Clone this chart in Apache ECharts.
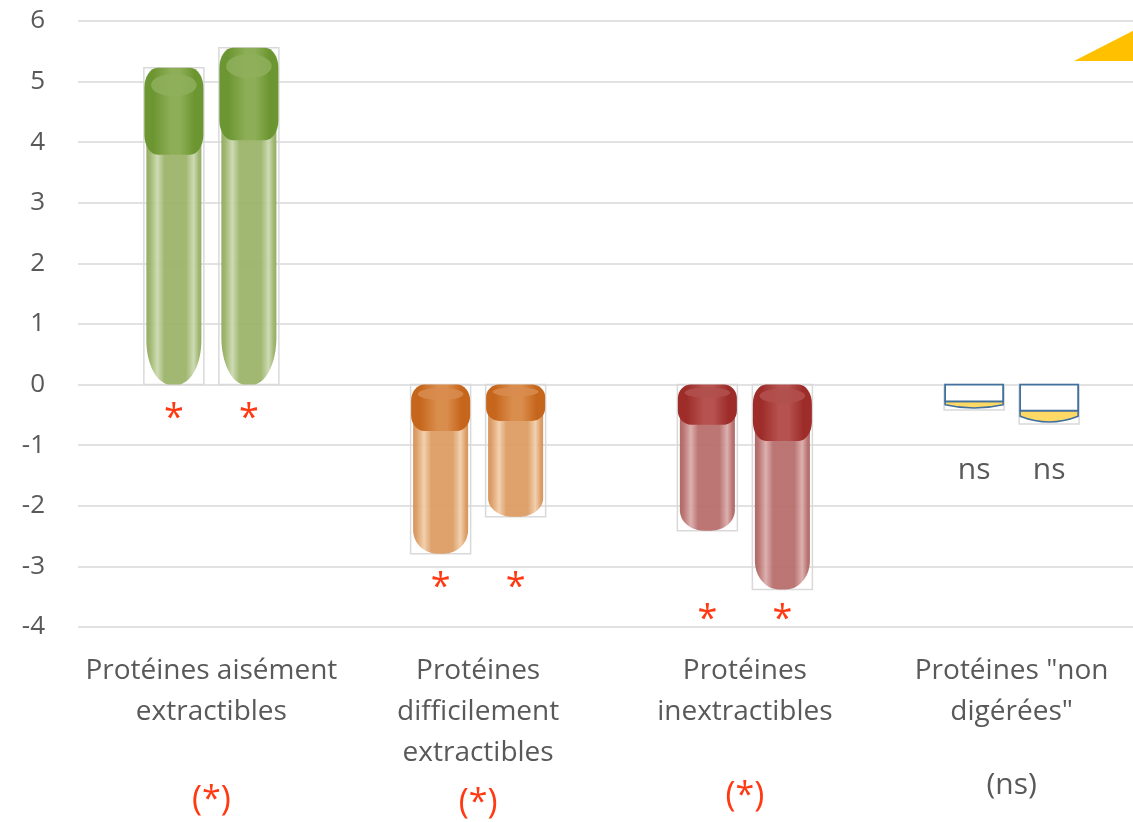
<!DOCTYPE html>
<html><head><meta charset="utf-8">
<script src="https://cdn.jsdelivr.net/npm/echarts@6/dist/echarts.min.js"></script>
<style>html,body{margin:0;padding:0;overflow:hidden;background:#fff}#c{width:1160px;height:822px}</style>
</head><body><div id="c"></div><script>
// ---- data ----
const categories = ['Protéines aisément\nextractibles', 'Protéines\ndifficilement\nextractibles', 'Protéines\ninextractibles', 'Protéines "non\ndigérées"'];
const seriesA = [5.23, -2.79, -2.41, -0.42];
const seriesB = [5.56, -2.18, -3.38, -0.65];
const barMarks = ['*', '*', '*', 'ns'];
const groupMarks = ['(*)', '(*)', '(*)', '(ns)'];
const yMin = -4, yMax = 6, yStep = 1;

// ---- styles ----
const FONT = '"Open Sans", sans-serif';
const GRAY = '#595959';
const MARK_RED = '#FF3A12';
const palettes = [
  {cap: '#6C9631', capHi: '#8DAE57', capTop: '#8FAF5C', body: '#9CB46B', bodyHi: '#CBD9B0', bodyEdge: '#8EA85C'},
  {cap: '#C6661C', capHi: '#DA8E4E', capTop: '#D88C4F', body: '#DD9D65', bodyHi: '#F1CEAB', bodyEdge: '#D38D52'},
  {cap: '#9E2D2A', capHi: '#B65350', capTop: '#B2504D', body: '#B86F6D', bodyHi: '#DAADAB', bodyEdge: '#AA605E'},
  {glass: true, stroke: '#41719C', liquid: '#FFD966'}
];
const BOX = '#D9D9D9';
const markOffset = [34, 34, 30, 46];

function rrPath(x0, x1, y0, y1, rh, rv) {
  return `M${x0+rh} ${y0}L${x1-rh} ${y0}C${x1-rh*0.45} ${y0} ${x1} ${y0+rv*0.45} ${x1} ${y0+rv}` +
    `L${x1} ${y1-rv}C${x1} ${y1-rv*0.45} ${x1-rh*0.45} ${y1} ${x1-rh} ${y1}` +
    `L${x0+rh} ${y1}C${x0+rh*0.45} ${y1} ${x0} ${y1-rv*0.45} ${x0} ${y1-rv}` +
    `L${x0} ${y0+rv}C${x0} ${y0+rv*0.45} ${x0+rh*0.45} ${y0} ${x0+rh} ${y0}Z`;
}
function bodyPath(x0, x1, y0, y1, rh, rv) {
  return `M${x0} ${y0}L${x1} ${y0}L${x1} ${y1-rv}C${x1} ${y1-rv*0.45} ${x1-rh*0.45} ${y1} ${x1-rh} ${y1}` +
    `L${x0+rh} ${y1}C${x0+rh*0.45} ${y1} ${x0} ${y1-rv*0.45} ${x0} ${y1-rv}Z`;
}
function ellipsePath(cx, cy, rx, ry) {
  return `M${cx-rx} ${cy}A${rx} ${ry} 0 1 0 ${cx+rx} ${cy}A${rx} ${ry} 0 1 0 ${cx-rx} ${cy}Z`;
}
function hGrad(stops) {
  return new echarts.graphic.LinearGradient(0, 0, 1, 0, stops.map(s => ({offset: s[0], color: s[1]})));
}

function makeRender(side) {
  return function (params, api) {
    const i = api.value(0), v = api.value(1);
    const band = api.size([1, 0])[0];
    const p0 = api.coord([i, 0]);
    const p1 = api.coord([i, v]);
    const w = band * 0.225;
    const cx = p0[0] + side * band * 0.1406;
    const x0 = cx - w / 2, x1 = cx + w / 2;
    const yTop = Math.min(p0[1], p1[1]);
    const yBot = Math.max(p0[1], p1[1]);
    const H = yBot - yTop;
    const pal = palettes[i];
    const children = [];
    children.push({type: 'rect', shape: {x: x0, y: yTop, width: w, height: H}, style: {fill: null, stroke: BOX, lineWidth: 1.5}});
    if (pal.glass) {
      const yR = yTop + H * 0.66;
      const b = yBot - 2 - yR;
      const pd = `M${x0+1} ${yR}L${x1-1} ${yR}L${x1-1} ${yR+b*0.5}Q${cx} ${yBot-2+b*0.5} ${x0+1} ${yR+b*0.5}Z`;
      children.push({type: 'path', shape: {pathData: pd}, style: {fill: pal.liquid, stroke: pal.stroke, lineWidth: 1.6}});
      children.push({type: 'rect', shape: {x: x0 + 1, y: yTop, width: w - 2, height: yR - yTop}, style: {fill: '#fff', stroke: pal.stroke, lineWidth: 1.8}});
    } else {
      const capH = H * 0.275;
      const bodyTop = yTop + capH * 0.8;
      children.push({type: 'path', shape: {pathData: bodyPath(x0 + 2.5, x1 - 2.5, bodyTop, yBot, w * 0.4, Math.min(H * 0.14, 50))},
        style: {fill: hGrad([[0, pal.bodyEdge], [0.07, pal.body], [0.2, pal.bodyHi], [0.33, pal.body], [0.72, pal.body], [0.86, pal.bodyHi], [0.95, pal.body], [1, pal.bodyEdge]]), opacity: 0.95}});
      children.push({type: 'path', shape: {pathData: rrPath(x0 + 0.5, x1 - 0.5, yTop, yTop + capH, w * 0.22, Math.min(capH * 0.34, 20))},
        style: {fill: hGrad([[0, pal.cap], [0.15, pal.cap], [0.45, pal.capHi], [0.6, pal.capHi], [0.85, pal.cap], [1, pal.cap]])}});
      children.push({type: 'path', shape: {pathData: ellipsePath(cx, yTop + capH * 0.2, w * 0.38, Math.max(capH * 0.13, 4))},
        style: {fill: pal.capTop, opacity: 0.85}});
    }
    const low = api.coord([i, Math.min(0, seriesA[i], seriesB[i])])[1];
    const mk = barMarks[i];
    if (mk === 'ns') {
      children.push({type: 'text', style: {text: mk, x: cx, y: low + markOffset[i], fill: GRAY, fontSize: 30, fontFamily: FONT, align: 'center', verticalAlign: 'middle'}});
    } else {
      children.push({type: 'text', style: {text: mk, x: cx, y: low + markOffset[i], fill: MARK_RED, fontSize: 36, fontFamily: FONT, align: 'center', verticalAlign: 'middle'}});
    }
    return {type: 'group', children};
  };
}

const chart = echarts.init(document.getElementById('c'), null, {renderer: 'canvas'});
const rich = {
  n: {fontSize: 28, lineHeight: 41, color: GRAY, fontFamily: FONT},
  s0: {fontSize: 34, lineHeight: 135, color: MARK_RED, fontFamily: FONT},
  s1: {fontSize: 34, lineHeight: 59, color: MARK_RED, fontFamily: FONT},
  s2: {fontSize: 34, lineHeight: 127, color: MARK_RED, fontFamily: FONT},
  s3: {fontSize: 30, lineHeight: 105, color: GRAY, fontFamily: FONT}
};
chart.setOption({
  animation: false,
  backgroundColor: '#fff',
  textStyle: {fontFamily: FONT},
  grid: {left: 78, right: 15, top: 21, bottom: 195},
  xAxis: {
    type: 'category', data: categories,
    axisLine: {show: false}, axisTick: {show: false},
    axisLabel: {
      interval: 0, margin: 24, hideOverlap: false,
      formatter: (val, idx) => val.split('\n').map(l => '{n|' + l + '}').join('\n') + '\n{s' + idx + '|' + groupMarks[idx] + '}',
      rich
    }
  },
  yAxis: {
    type: 'value', min: yMin, max: yMax, interval: yStep,
    axisLine: {show: false}, axisTick: {show: false},
    axisLabel: {color: GRAY, fontSize: 26, margin: 33, fontFamily: FONT},
    splitLine: {lineStyle: {color: '#D9D9D9', width: 1.5}}
  },
  graphic: [{type: 'polygon', shape: {points: [[1074, 61], [1160, 17], [1160, 61]]}, style: {fill: '#FFC000'}}],
  series: [
    {type: 'custom', name: 'A', renderItem: makeRender(-1), data: seriesA.map((v, i) => [i, v]), encode: {x: 0, y: 1}},
    {type: 'custom', name: 'B', renderItem: makeRender(1), data: seriesB.map((v, i) => [i, v]), encode: {x: 0, y: 1}}
  ]
});
</script></body></html>
